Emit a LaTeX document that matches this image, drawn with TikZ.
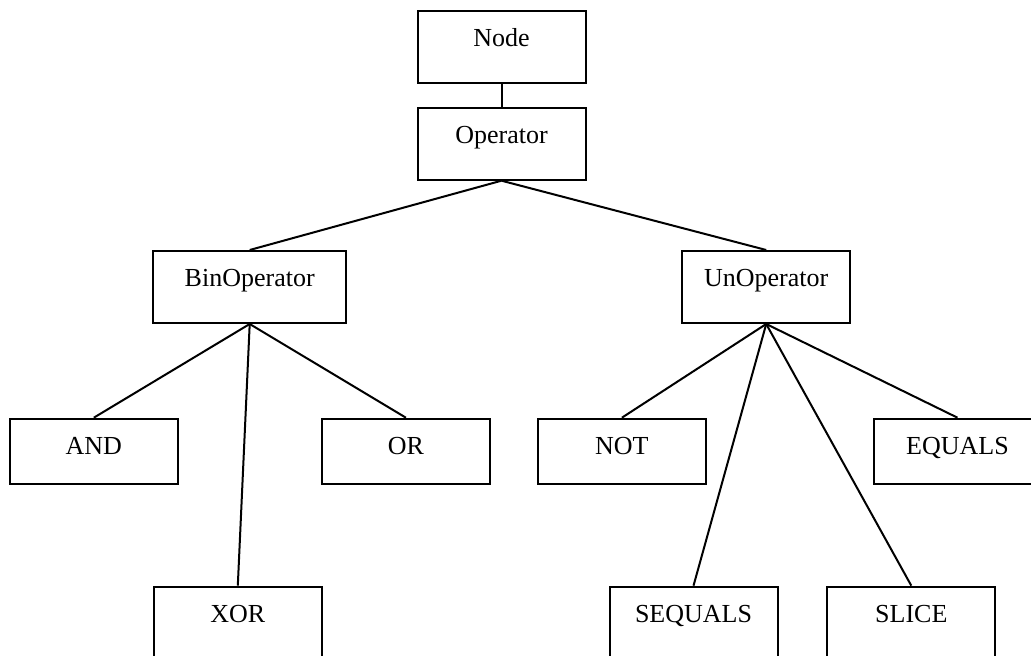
\documentclass[tikz,border=0pt]{standalone}
\usepackage{fontspec}
\setmainfont{Liberation Serif}
\usetikzlibrary{positioning}
\tikzset{
  cls/.style={draw, line width=1pt, anchor=north, inner sep=0pt, align=center,
    font=\fontsize{13}{15.6}\selectfont, text height=17.8pt, text depth=18.2pt,
    minimum width=84pt},
  leaf/.style={cls, text depth=14.7pt},
  wide/.style={cls, minimum width=96.4pt},
  edge/.style={line width=1pt}
}
\begin{document}
\begin{tikzpicture}[x=0.5pt, y=-0.5pt]
\clip (0,0) rectangle (1031,656);
\node[cls] (node) at (501.5,10) {Node};
\node[cls] (op) at (501.5,106.7) {Operator};
\node[wide] (bin) at (249.7,250) {BinOperator};
\node[cls] (un) at (766.2,250) {UnOperator};
\node[leaf] (and) at (93.8,417.7) {AND};
\node[leaf] (or) at (405.9,417.7) {OR};
\node[leaf] (not) at (621.9,417.7) {NOT};
\node[leaf] (eq) at (957.5,417.7) {EQUALS};
\node[cls] (xor) at (237.8,585.7) {XOR};
\node[cls] (seq) at (693.5,585.7) {SEQUALS};
\node[cls] (slice) at (911.3,585.7) {SLICE};

\draw[edge] (node.south) -- (op.north);
\draw[edge] (op.south) -- (bin.north);
\draw[edge] (op.south) -- (un.north);
\draw[edge] (bin.south) -- (and.north);
\draw[edge] (bin.south) -- (xor.north);
\draw[edge] (bin.south) -- (or.north);
\draw[edge] (un.south) -- (not.north);
\draw[edge] (un.south) -- (seq.north);
\draw[edge] (un.south) -- (slice.north);
\draw[edge] (un.south) -- (eq.north);
\end{tikzpicture}
\end{document}
